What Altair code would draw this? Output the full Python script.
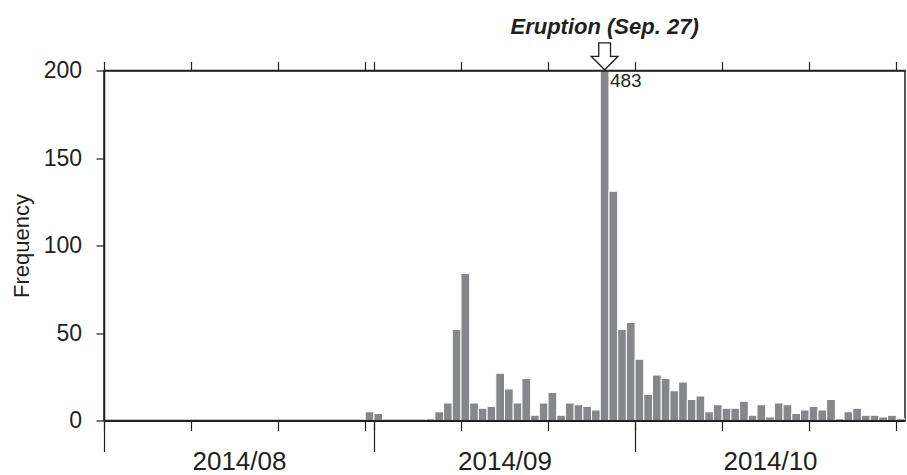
import altair as alt
import pandas as pd
from datetime import datetime, timedelta, timezone

# ---------------- data ----------------
aug_counts = [0, 0, 0, 0, 0, 0, 0, 0, 0, 0,
              0, 0, 0, 0, 0, 0, 0, 0, 0, 0,
              0, 0, 0, 0, 0, 0, 0, 0, 0, 0,
              5]
sep_counts = [4, 0, 0, 0, 0, 0, 1, 5, 10, 52,
              84, 10, 7, 8, 27, 18, 10, 24, 3, 10,
              16, 3, 10, 9, 8, 6, 483, 131, 52, 56]
oct_counts = [35, 15, 26, 24, 17, 22, 12, 14, 5, 9,
              7, 7, 11, 3, 9, 2, 10, 9, 4, 6,
              8, 6, 12, 1, 5, 7, 3, 3, 2, 3,
              1]

first_day = (2014, 8, 1)
end_day = (2014, 11, 1)
minor_tick_days = [(2014, 8, 1), (2014, 8, 11), (2014, 8, 21), (2014, 8, 31),
                   (2014, 9, 1), (2014, 9, 11), (2014, 9, 21),
                   (2014, 10, 1), (2014, 10, 11), (2014, 10, 21), (2014, 10, 31)]
month_starts = [(2014, 8, 1), (2014, 9, 1), (2014, 10, 1), (2014, 11, 1)]
y_ticks = [0, 50, 100, 150, 200]
eruption_day = (2014, 9, 27)
eruption_label = "Eruption (Sep. 27)"
peak_label = "483"


def ms(dt):
    return int(dt.timestamp() * 1000)


def day(t):
    return datetime(t[0], t[1], t[2], tzinfo=timezone.utc)


counts = aug_counts + sep_counts + oct_counts
starts = [day(first_day) + timedelta(days=i) for i in range(len(counts))]
df = pd.DataFrame({
    "start": [ms(s) for s in starts],
    "end": [ms(s + timedelta(days=1)) for s in starts],
    "count": counts,
})

t0, t1 = ms(day(first_day)), ms(day(end_day))
minor_ms = [ms(day(t)) for t in minor_tick_days]
major_ms = [ms(day(t)) for t in month_starts[:-1]]
mid_ms = [(ms(day(a)) + ms(day(b))) // 2 for a, b in zip(month_starts[:-1], month_starts[1:])]
erupt_mid = ms(day(eruption_day) + timedelta(hours=12))
erupt_end = ms(day(eruption_day) + timedelta(days=1))

INK = "#231f20"
BAR = "#86878b"
x_scale = alt.Scale(type="utc", domain=[t0, t1], padding=0, nice=False)
y_scale = alt.Scale(domain=[0, 200], nice=False, zero=True, padding=0)

y_axis = alt.Axis(values=y_ticks, tickSize=8, tickColor=INK, tickWidth=1.2,
                  labelFontSize=23, labelPadding=14.5, labelColor=INK,
                  domain=True, domainColor=INK, domainWidth=1.5, grid=False,
                  title="Frequency", titleFontSize=22, titleFontWeight="normal",
                  titleColor=INK, titleX=-75.3, titleY=175, titleAngle=270,
                  titleBaseline="alphabetic", titleAlign="center", zindex=1)

bars = alt.Chart(df).mark_bar(color=BAR, stroke="white", strokeWidth=1, clip=True,
                              orient="vertical").encode(
    x=alt.X("start:T", scale=x_scale,
            axis=alt.Axis(orient="bottom", values=minor_ms, tickSize=10, tickColor=INK,
                          tickWidth=1.2, labels=False, domain=True, domainColor=INK,
                          domainWidth=2, grid=False, title=None, zindex=1)),
    x2="end:T",
    y=alt.Y("count:Q", scale=y_scale, axis=y_axis),
    y2=alt.datum(0),
)

long_ticks = alt.Chart(pd.DataFrame({"t": major_ms})).mark_point(opacity=0).encode(
    x=alt.X("t:T", scale=x_scale,
            axis=alt.Axis(orient="bottom", values=major_ms, tickSize=31, tickColor=INK,
                          tickWidth=1.2, labels=False, domain=False, grid=False,
                          title=None, zindex=1)),
    y=alt.value(0),
)

month_text = alt.Chart(pd.DataFrame({"t": mid_ms})).mark_point(opacity=0).encode(
    x=alt.X("t:T", scale=x_scale,
            axis=alt.Axis(orient="bottom", values=mid_ms, ticks=False, tickSize=0,
                          labels=True, labelExpr="utcFormat(datum.value, '%Y/%m')",
                          labelFontSize=26, labelColor=INK, labelPadding=28,
                          labelFlush=False, labelOverlap=False,
                          domain=False, grid=False, title=None, zindex=1)),
    y=alt.value(0),
)

top_ticks = alt.Chart(pd.DataFrame({"t": minor_ms})).mark_point(opacity=0).encode(
    x=alt.X("t:T", scale=x_scale,
            axis=alt.Axis(orient="top", values=minor_ms, tickSize=9, tickColor=INK,
                          tickWidth=1.2, labels=False, domain=True, domainColor=INK,
                          domainWidth=1.5, grid=False, title=None, zindex=1)),
    y=alt.value(0),
)

arrow_path = "M -0.44 -1 L 0.44 -1 L 0.44 0 L 1 0 L 0 1 L -1 0 L -0.44 0 Z"
arrow = alt.Chart(pd.DataFrame({"t": [erupt_mid]})).mark_point(
    shape=arrow_path, size=720, filled=True, fill="white", stroke=INK, strokeWidth=1.3,
    opacity=1).encode(
    x=alt.X("t:T", scale=x_scale, axis=None),
    y=alt.value(-14.2),
)

title_text = alt.Chart(pd.DataFrame({"t": [erupt_mid], "label": [eruption_label]})).mark_text(
    fontSize=22, fontWeight="bold", fontStyle="italic", color=INK,
    align="center", baseline="alphabetic").encode(
    x=alt.X("t:T", scale=x_scale, axis=None),
    y=alt.value(-36.4),
    text="label:N",
)

peak_text = alt.Chart(pd.DataFrame({"t": [erupt_end], "label": [peak_label]})).mark_text(
    fontSize=19, color=INK, align="left", baseline="alphabetic", dx=1).encode(
    x=alt.X("t:T", scale=x_scale, axis=None),
    y=alt.value(16.3),
    text="label:N",
)

chart = alt.layer(bars, long_ticks, month_text, top_ticks, arrow, title_text, peak_text).resolve_axis(
    x="independent"
).properties(
    width=801, height=350,
    autosize=alt.AutoSizeParams(type="none"),
    padding={"left": 104, "top": 70.5, "right": 2, "bottom": 54.5},
).configure(
    font="Liberation Sans", background="white"
).configure_view(
    stroke=INK, strokeWidth=1.5
)

chart.save("out.html", embed_options={"renderer": "svg", "actions": False})
